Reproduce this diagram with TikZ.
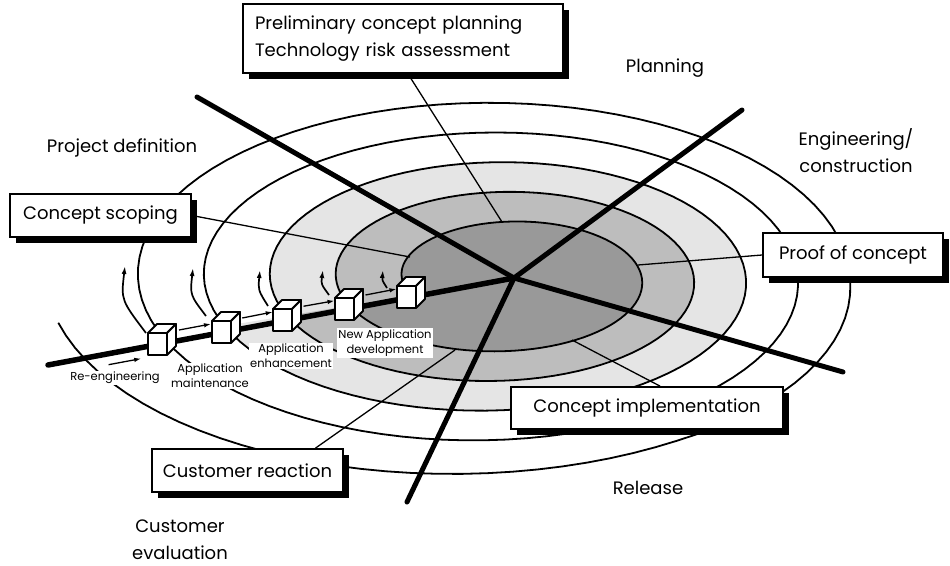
\documentclass[tikz,border=0pt]{standalone}
\usepackage{fontspec}
\setmainfont{Poppins}
\usetikzlibrary{arrows.meta,shadows,calc}
\definecolor{ringlight}{gray}{0.90}
\definecolor{ringmid}{gray}{0.74}
\definecolor{ringdark}{gray}{0.60}
% spiral: one turn per 360 degrees, passing through the cubes at 200+360n
\def\spiralx{477.5+(\x-360)/360*7+(372.5-(\x-360)/360*59+0.15*max(0,360-\x))*cos(\x)}
\def\spiraly{279-(191-(\x-270)/360*29.7+0.12*max(0,300-\x))*sin(\x)}
\begin{document}
\begin{tikzpicture}[x=1pt, y=-1pt,
  ring/.style={line width=1.8pt},
  axis/.style={line width=5pt, line cap=round},
  lead/.style={line width=1.3pt},
  rail/.style={line width=1.3pt, -{Latex[length=7pt,width=4.5pt]}},
  turn/.style={line width=1.7pt, -{Latex[length=8pt,width=5pt]}},
  cubeface/.style={fill=white, draw, line width=1.8pt, line join=round},
  lbl/.style={font=\fontsize{11.5}{15}\selectfont, fill=white, inner sep=1.5pt, align=center},
  phase/.style={font=\fontsize{18}{27}\selectfont, align=center},
  box/.style={draw, fill=white, line width=1.8pt, font=\fontsize{18}{27}\selectfont,
    drop shadow={shadow xshift=6pt, shadow yshift=-6pt, fill=black, opacity=1}}
]
\useasboundingbox (0,0) rectangle (950,565);

% shaded rings
\fill[ringlight] plot[domain=920:1280, samples=120] ({\spiralx},{\spiraly}) -- cycle;
\fill[ringmid] plot[domain=1280:1640, samples=120] ({\spiralx},{\spiraly}) -- cycle;
\fill[ringdark] plot[domain=1640:2000, samples=120] ({\spiralx},{\spiraly}) -- cycle;
\draw[ring] plot[domain=192:2000, samples=500] ({\spiralx},{\spiraly});

% axes
\coordinate (hub) at (514,278);
\coordinate (ax-nw) at (197,97);
\coordinate (ax-ne) at (742,110);
\coordinate (ax-se) at (843,372);
\coordinate (ax-s) at (407,502);
\coordinate (ax-w) at (48,365);
\draw[axis] (hub) -- (ax-nw);
\draw[axis] (hub) -- (ax-ne);
\draw[axis] (hub) -- (ax-se);
\draw[axis] (hub) -- (ax-s);
\draw[axis, line width=5.5pt] (hub) -- (ax-w);

% cubes on the left axis
\foreach \n/\cx/\cy in {1/163/344, 2/227/332, 3/288/320, 4/350/309, 5/412/297}
  \coordinate (cube\n) at (\cx,\cy);
\draw[rail] ($(ax-w)!0.13!(hub)+(0,11)$) -- ($(ax-w)!0.2!(hub)+(0,11)$);
\foreach \a/\b in {1/2, 2/3, 3/4, 4/5}
  \draw[rail] ($(cube\a)!0.25!(cube\b)+(0,-11)$) -- ($(cube\a)!0.75!(cube\b)+(0,-11)$);
\foreach \ta/\tb/\ca/\cb/\ha/\hb in {146/333/121/300/125/266, 206/316/190/295/193/268,
    268/306/258/290/260/270, 329/295/321/284/323/270, 387/288/382/280/383/270}
  \draw[turn] (\ta,\tb) .. controls (\ca,\cb) .. (\ha,\hb);
\foreach \n in {1,...,5} {
  \begin{scope}[shift={(cube\n)}]
    \draw[cubeface] (-15,-11) rectangle (4,11);
    \draw[cubeface] (-15,-11) -- ++(9,-9) -- ++(19,0) -- ++(-9,9) -- cycle;
    \draw[cubeface] (4,-11) -- ++(9,-9) -- ++(0,22) -- ++(-9,9) -- cycle;
  \end{scope}
}

% small labels
\node[lbl] (reeng) at (115,378) {Re-engineering};
\node[lbl] (maint) at (210,376) {Application\\maintenance};
\node[lbl] (enh) at (291,356) {Application\\enhancement};
\node[lbl] (newdev) at (385,343) {New Application\\development};

% phases
\node[phase] (projdef) at (122,148) {Project definition};
\node[phase] (planning) at (665,68) {Planning};
\node[phase] (eng) at (856,151) {Engineering/\\construction};
\node[phase] (release) at (648,488) {Release};
\node[phase] (custeval) at (180,540) {Customer\\evaluation};

% boxes
\node[box, text width=296pt, inner xsep=12pt, minimum height=69pt, align=left] (prelim) at (403,38.5)
  {Preliminary concept planning\\Technology risk assessment};
\node[box, minimum width=181pt, minimum height=43pt] (scoping) at (100.5,215.5) {Concept scoping};
\node[box, minimum width=180pt, minimum height=44pt] (proof) at (853,255) {Proof of concept};
\node[box, minimum width=272pt, minimum height=42pt] (impl) at (647,408) {Concept implementation};
\node[box, minimum width=191pt, minimum height=43pt] (custreact) at (247.5,470.5) {Customer reaction};

% leaders
\coordinate (prelim-end) at (502,222);
\coordinate (scoping-end) at (410,257);
\coordinate (proof-end) at (638,265);
\coordinate (impl-end) at (572,340);
\coordinate (custreact-end) at (455,350);
\draw[lead] ([xshift=5pt]prelim.south) -- (prelim-end);
\draw[lead] (scoping.east) -- (scoping-end);
\draw[lead] (proof.west) -- (proof-end);
\draw[lead] ([xshift=13pt]impl.north) -- (impl-end);
\draw[lead] ([xshift=68pt]custreact.north) -- (custreact-end);
\end{tikzpicture}
\end{document}
